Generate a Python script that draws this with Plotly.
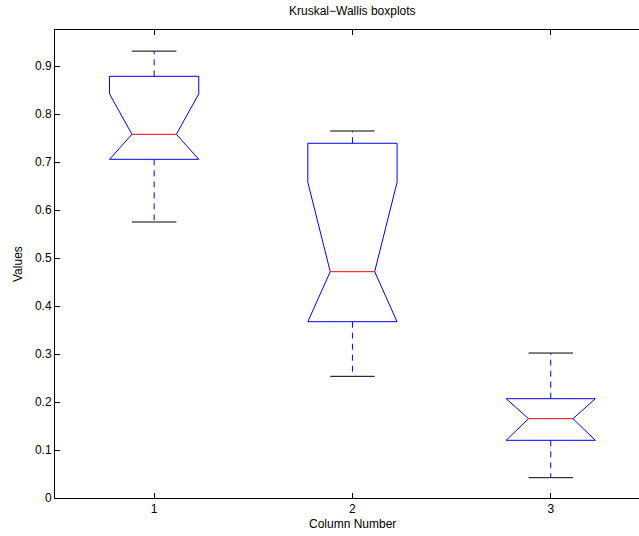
import plotly.graph_objects as go

# Data (notched boxplots)
columns = [1, 2, 3]
q1 = [0.7056, 0.3673, 0.1202]
medians = [0.7577, 0.4715, 0.1652]
q3 = [0.8785, 0.7390, 0.2069]
notch_lo = [0.674, 0.285, 0.118]
notch_hi = [0.842, 0.6577, 0.209]
whisker_lo = [0.575, 0.2535, 0.0423]
whisker_hi = [0.931, 0.7646, 0.302]
x_tick_labels = ["1", "2", "3"]
y_ticks = [0, 0.1, 0.2, 0.3, 0.4, 0.5, 0.6, 0.7, 0.8, 0.9]

BOX_HALF = 0.225
NOTCH_HALF = 0.112
CAP_HALF = 0.112

box_x, box_y = [], []
med_x, med_y = [], []
wh_x, wh_y = [], []
cap_x, cap_y = [], []
for c, a, m, b, nl, nh, wl, wu in zip(columns, q1, medians, q3, notch_lo, notch_hi,
                                      whisker_lo, whisker_hi):
    nhc = min(nh, b)
    nlc = max(nl, a)
    box_x += [c - BOX_HALF, c - BOX_HALF, c - NOTCH_HALF, c - BOX_HALF, c - BOX_HALF,
              c + BOX_HALF, c + BOX_HALF, c + NOTCH_HALF, c + BOX_HALF, c + BOX_HALF,
              c - BOX_HALF, None]
    box_y += [b, nhc, m, nlc, a, a, nlc, m, nhc, b, b, None]
    med_x += [c - NOTCH_HALF, c + NOTCH_HALF, None]
    med_y += [m, m, None]
    wh_x += [c, c, None, c, c, None]
    wh_y += [b, wu, None, a, wl, None]
    cap_x += [c - CAP_HALF, c + CAP_HALF, None, c - CAP_HALF, c + CAP_HALF, None]
    cap_y += [wu, wu, None, wl, wl, None]

fig = go.Figure()
fig.add_trace(go.Scatter(x=wh_x, y=wh_y, mode="lines",
                         line=dict(color="#0000ff", width=1, dash="6px,5px"),
                         hoverinfo="skip", showlegend=False))
fig.add_trace(go.Scatter(x=cap_x, y=cap_y, mode="lines",
                         line=dict(color="#000000", width=1),
                         hoverinfo="skip", showlegend=False))
fig.add_trace(go.Scatter(x=box_x, y=box_y, mode="lines",
                         line=dict(color="#0000ff", width=1),
                         hoverinfo="skip", showlegend=False))
fig.add_trace(go.Scatter(x=med_x, y=med_y, mode="lines",
                         line=dict(color="#ff0000", width=1),
                         hoverinfo="skip", showlegend=False))

W, H = 639, 536
L, T, B = 55, 30, 38
plot_w = W - L
px_per_unit = 198.3
x_max = 0.5 + plot_w / px_per_unit

font = dict(family="Liberation Sans, Arial, sans-serif", size=12, color="#000000")

fig.update_layout(
    width=W, height=H,
    margin=dict(l=L, r=0, t=T, b=B),
    paper_bgcolor="white", plot_bgcolor="white",
    font=font,
    showlegend=False,
    xaxis=dict(range=[0.5, x_max], tickvals=columns, ticktext=x_tick_labels,
               ticks="inside", ticklen=5, tickcolor="#000000",
               showline=True, linecolor="#000000", linewidth=1, mirror="ticks",
               showgrid=False, zeroline=False, fixedrange=True),
    yaxis=dict(range=[0, 0.975], tickvals=y_ticks,
               ticktext=["0" if v == 0 else f"{v:g}" for v in y_ticks],
               ticks="inside", ticklen=5, tickcolor="#000000",
               showline=True, linecolor="#000000", linewidth=1, mirror=False,
               showgrid=False, zeroline=False, fixedrange=True),
    annotations=[
        dict(text="Kruskal\u2212Wallis boxplots", xref="x", x=2, yref="paper", y=1,
             yanchor="bottom", yshift=10, showarrow=False, font=font),
        dict(text="Column Number", xref="x", x=2, yref="paper", y=0,
             yanchor="top", yshift=-16.5, showarrow=False, font=font),
        dict(text="Values", xref="paper", x=(18 - L) / plot_w, yref="paper", y=0.5,
             textangle=-90, xanchor="center", yanchor="middle", showarrow=False, font=font),
    ],
)

fig.write_html("out.html")
